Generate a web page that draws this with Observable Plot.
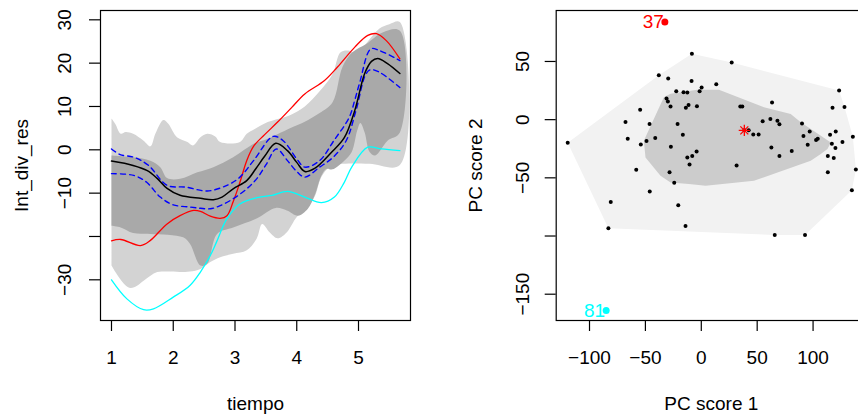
<!DOCTYPE html>
<html><head><meta charset="utf-8">
<script src="https://cdn.jsdelivr.net/npm/d3@7"></script>
<script src="https://cdn.jsdelivr.net/npm/@observablehq/plot@0.6"></script>
<style>
html,body{margin:0;padding:0;background:#fff;overflow:hidden;}
#wrap{display:flex;width:858px;height:416px;overflow:hidden;}
#wrap svg{flex:none;max-width:none;}
</style></head><body><div id="wrap"></div>
<script>
// ---------- Left panel: functional boxplot ----------
const xTicksL = [1, 2, 3, 4, 5];
const yTicksL = [30, 20, 10, 0, -10, -20, -30];
const yLabelsL = [30, 20, 10, 0, -10, -30];
const xTitleL = "tiempo";
const yTitleL = "Int_div_res";

const medT = [1.00,1.35,1.58,1.74,1.90,2.11,2.44,2.65,2.79,2.97,3.19,3.34,3.48,3.66,3.85,4.00,4.13,4.29,4.56,4.77,4.94,5.10,5.21,5.31,5.47,5.67];
const medY = [-2.6,-3.6,-4.8,-6.6,-8.9,-10.5,-11.2,-11.5,-10.9,-9.0,-7.1,-4.3,-1.5,1.5,-0.2,-2.9,-5.0,-4.3,-0.6,2.8,9.1,17.6,20.4,21.1,19.9,17.6];

const upT = [1.00,1.14,1.36,1.60,1.90,2.20,2.55,2.87,3.08,3.30,3.62,3.78,4.00,4.13,4.37,4.60,4.85,4.94,5.02,5.20,5.34,5.67];
const upY = [0.2,-1.1,-1.7,-3.6,-8.2,-8.6,-9.5,-8.2,-6.3,-2.5,3.1,2.1,-2.1,-4.0,-2.5,2.1,7.5,11.5,15.5,23.3,22.9,20.6];

const loT = [1.00,1.36,1.57,1.79,2.00,2.27,2.44,2.60,2.76,2.97,3.19,3.35,3.50,3.67,3.85,4.00,4.13,4.37,4.59,4.80,4.96,5.12,5.20,5.34,5.67];
const loY = [-5.5,-5.9,-7.5,-10.9,-12.7,-13.2,-13.5,-13.6,-12.9,-11.3,-9.0,-6.7,-3.5,0.2,-2.5,-5.0,-6.3,-4.0,-1.7,2.1,9.1,17.5,18.5,17.9,14.4];

const redT = [1.00,1.15,1.47,1.63,1.90,2.11,2.33,2.44,2.60,2.76,2.87,2.97,3.08,3.19,3.30,3.48,3.69,3.92,4.13,4.45,4.66,4.94,5.15,5.29,5.45,5.67];
const redY = [-21.0,-20.7,-22.1,-20.9,-17.1,-15.2,-14.0,-14.2,-15.3,-15.8,-15.2,-12.0,-7.5,-2.5,0.8,3.5,6.4,9.8,12.9,16.0,19.1,23.7,26.4,26.8,25.2,21.0];

const cyT = [1.00,1.25,1.52,1.68,2.00,2.27,2.44,2.60,2.70,2.87,3.08,3.40,3.60,3.85,4.13,4.40,4.61,4.77,4.89,5.15,5.37,5.67];
const cyY = [-30.0,-34.4,-36.9,-36.7,-34.0,-31.3,-28.2,-24.4,-21.3,-15.9,-12.5,-10.9,-10.5,-9.6,-10.9,-12.2,-10.9,-7.5,-4.0,0.6,0.2,-0.2];

const ltUpT = [1.00,1.06,1.15,1.23,1.35,1.52,1.63,1.71,1.84,1.92,2.06,2.23,2.32,2.44,2.55,2.68,2.76,3.08,3.19,3.32,3.53,3.89,4.13,4.37,4.58,4.71,4.84,4.98,5.15,5.34,5.50,5.67];
const ltUpY = [7.2,6.0,3.7,4.1,3.7,2.1,0.8,3.7,6.9,6.0,2.9,1.8,1.0,2.9,3.7,3.1,1.8,1.8,3.7,4.8,6.4,8.0,10.0,13.5,17.5,22.5,22.9,22.0,25.0,28.0,29.0,29.5];
const ltLoT = [1.00,1.10,1.23,1.31,1.42,1.52,1.74,1.90,2.11,2.27,2.44,2.60,2.76,2.97,3.19,3.35,3.44,3.56,3.69,3.84,4.00,4.16,4.29,4.40,4.53,4.69,5.18,5.67];
const ltLoY = [-26.7,-29.0,-31.3,-31.9,-31.3,-30.2,-28.2,-28.1,-28.2,-28.1,-27.5,-25.9,-24.8,-24.0,-23.2,-20.5,-17.1,-19.0,-20.4,-19.0,-15.5,-13.5,-10.8,-6.2,-4.0,-3.3,-3.2,-3.5];

const dkUpT = [1.00,1.35,1.63,1.79,1.90,2.11,2.39,2.65,2.97,3.32,3.52,3.89,4.13,4.37,4.58,4.74,4.90,5.13,5.39,5.67];
const dkUpY = [-1.3,-1.7,-2.5,-4.0,-6.5,-6.7,-5.2,-4.0,-1.7,1.5,2.5,5.0,6.5,8.5,11.0,19.1,22.5,24.5,27.1,27.5];
const dkLoT = [1.00,1.15,1.35,1.63,2.16,2.27,2.44,2.55,2.71,2.97,3.34,3.66,3.84,4.02,4.18,4.29,4.40,4.48,4.58,4.77,4.89,4.98,5.03,5.10,5.18,5.27,5.47,5.67];
const dkLoY = [-17.5,-17.9,-19.2,-19.4,-20.2,-21.7,-26.7,-26.3,-19.4,-17.9,-15.9,-13.4,-14.0,-15.2,-13.6,-10.5,-5.9,-4.4,-4.5,-2.5,-0.5,4.5,6.2,4.0,-0.5,-1.3,2.1,4.0];

// ---------- Right panel: bivariate bagplot of PC scores ----------
const xTicksR = [-100, -50, 0, 50, 100];
const yTicksR = [50, 0, -50, -100, -150];
const yLabelsR = [50, 0, -50, -150];
const xTitleR = "PC score 1";
const yTitleR = "PC score 2";

const pcX = [-8.4,27.2,-38,-29.6,-8.7,13.4,0.3,-1.5,-22.4,-15.9,-12.5,123.3,-31.1,-29.9,-27.5,-11.4,-13.8,-3.9,-54.7,34.9,36.7,63.3,117.4,128.1,-67.8,-46.3,-21.2,54.9,61.8,68.1,69.9,90.1,-119.5,-65.8,-49,-41.2,-54.1,-16.5,38.5,42.4,46.5,51.3,91.4,97,95.2,102.7,104.2,115.2,120.3,116.8,126.3,135.6,120,113.2,118.5,-27.2,-4.2,-8.1,-12.5,-10.5,31.6,62.7,69.9,80.9,-58.2,-28.4,-24.2,113.2,138.3,-46.1,134.7,-81,-20.6,-83.1,-14.1,65.7,92.8];
const pcY = [56.6,49.1,38.2,35.3,33.3,30.5,27.6,24.4,24.4,23.6,23.3,25,18.1,15.5,11.2,12.6,10.3,11.5,8.6,11.2,11.2,14.7,10.3,10.9,-2,-3.7,-3.7,-1.4,0.6,-0.9,-4,-3.4,-19.8,-16.4,-18.4,-15.8,-21.3,-12.9,-9.2,-9.2,-12.7,-12.7,-14.1,-10.1,-21.6,-17.5,-16.4,-12.9,-10.1,-20.7,-19.2,-14.7,-24.4,-31.3,-33,-23.3,-27.3,-31.3,-32.5,-38.5,-39.4,-23.9,-31.3,-27,-43.1,-45.1,-54.3,-45.1,-42.8,-61.8,-60.6,-70.7,-73.5,-93.4,-91.4,-99.1,-99.1];

const outerX = [-119.5,-38,-8.4,27.2,123.3,128.1,135.6,138.3,134.7,92.8,65.7,-83.1];
const outerY = [-19.8,38.2,56.6,49.1,25,10.9,-14.7,-42.8,-60.6,-99.1,-99.1,-93.4];
const innerX = [-51.4,-33.5,-27.5,-3.6,15.8,56.1,80,89,115.9,112.9,106.9,97.9,47.1,3.9,-11.1,-27.5,-36.5,-49.9];
const innerY = [-18.1,19.2,22.2,25.6,25.6,10.6,4.9,-2.3,-19.6,-25.3,-29.6,-35.3,-52.6,-56.9,-55.4,-54,-48.3,-32.5];

const medianPC = {x: 38.5, y: -9.2};
const outLabels = ["37", "81"];
const outX = [-32.6, -85.1];
const outY = [83.9, -164];
const outColors = ["#ff0000", "#00ffff"];

// ---------- helpers ----------
const FONT = "'Liberation Sans', Arial, Helvetica, sans-serif";
const FS = 19;
const fmt = d => d < 0 ? "\u2212" + Math.abs(d) : String(d);
const series = (T, Y) => T.map((t, i) => ({t, y: Y[i]}));
function band(tu, yu, tl, yl) {
  const pts = series(tu, yu);
  for (let i = tl.length - 1; i >= 0; i--) pts.push({t: tl[i], y: yl[i]});
  return pts;
}
const style = {fontFamily: FONT, fontSize: FS + "px", background: "white", overflow: "visible"};

const left = Plot.plot({
  width: 429, height: 416,
  marginLeft: 100, marginRight: 19, marginTop: 10, marginBottom: 96,
  style,
  x: {domain: [0.822, 5.842]},
  y: {domain: [-39.39, 32.15]},
  marks: [
    Plot.line(band(ltUpT, ltUpY, ltLoT, ltLoY), {x: "t", y: "y", fill: "#d3d3d3", stroke: "none", curve: "catmull-rom"}),
    Plot.line(band(dkUpT, dkUpY, dkLoT, dkLoY), {x: "t", y: "y", fill: "#a9a9a9", stroke: "none", curve: "catmull-rom"}),
    Plot.line(series(redT, redY), {x: "t", y: "y", stroke: "#ff0000", strokeWidth: 1.3, curve: "catmull-rom"}),
    Plot.line(series(cyT, cyY), {x: "t", y: "y", stroke: "#00ffff", strokeWidth: 1.3, curve: "catmull-rom"}),
    Plot.line(series(upT, upY), {x: "t", y: "y", stroke: "#0000ff", strokeWidth: 1.4, strokeDasharray: "5,4", curve: "catmull-rom"}),
    Plot.line(series(loT, loY), {x: "t", y: "y", stroke: "#0000ff", strokeWidth: 1.4, strokeDasharray: "5,4", curve: "catmull-rom"}),
    Plot.line(series(medT, medY), {x: "t", y: "y", stroke: "#000", strokeWidth: 1.5, curve: "catmull-rom"}),
    Plot.frame({stroke: "#000", strokeWidth: 1.2}),
    Plot.axisX({ticks: xTicksL, tickSize: 11, tickFormat: () => "", label: null, strokeWidth: 1.2}),
    Plot.axisY({ticks: yTicksL, tickSize: 11, tickFormat: () => "", label: null, strokeWidth: 1.2}),
    Plot.text(xTicksL, {x: d => d, text: d => fmt(d), frameAnchor: "bottom", dy: 37.4, fontSize: FS, lineAnchor: "middle", fill: "#000"}),
    Plot.text(yLabelsL, {y: d => d, text: d => fmt(d), frameAnchor: "left", dx: -35.5, rotate: -90, fontSize: FS, lineAnchor: "middle", textAnchor: "middle", fill: "#000"}),
    Plot.text([xTitleL], {text: d => d, frameAnchor: "bottom", dy: 83, fontSize: FS, lineAnchor: "middle", fill: "#000"}),
    Plot.text([yTitleL], {text: d => d, frameAnchor: "left", dx: -79, rotate: -90, fontSize: FS, lineAnchor: "middle", textAnchor: "middle", fill: "#000"})
  ]
});

const pts = pcX.map((x, i) => ({x, y: pcY[i]}));
const outer = outerX.map((x, i) => ({x, y: outerY[i]}));
const inner = innerX.map((x, i) => ({x, y: innerY[i]}));
const outs = outLabels.map((l, i) => ({l, x: outX[i], y: outY[i], c: outColors[i]}));

const right = Plot.plot({
  width: 437, height: 416,
  marginLeft: 126.7, marginRight: 0, marginTop: 10, marginBottom: 96,
  style,
  x: {domain: [-129.8, 147.8]},
  y: {domain: [-172.6, 93.8]},
  marks: [
    Plot.line(outer, {x: "x", y: "y", fill: "#f2f2f2", stroke: "none", curve: "linear-closed"}),
    Plot.line(inner, {x: "x", y: "y", fill: "#cccccc", stroke: "none", curve: "linear-closed"}),
    Plot.dot(pts, {x: "x", y: "y", r: 2, fill: "#000", stroke: "none"}),
    Plot.dot([medianPC], {x: "x", y: "y", symbol: "plus", r: 3.7, stroke: "#ff0000", strokeWidth: 1.3}),
    Plot.dot([medianPC], {x: "x", y: "y", symbol: "times", r: 3.7, stroke: "#ff0000", strokeWidth: 1.3}),
    Plot.dot(outs, {x: "x", y: "y", r: 3.5, fill: d => d.c, stroke: "none"}),
    Plot.text(outs, {x: "x", y: "y", text: "l", fill: d => d.c, textAnchor: "end", dx: -1, fontSize: FS, lineAnchor: "middle"}),
    Plot.frame({stroke: "#000", strokeWidth: 1.2}),
    Plot.axisX({ticks: xTicksR, tickSize: 11, tickFormat: () => "", label: null, strokeWidth: 1.2}),
    Plot.axisY({ticks: yTicksR, tickSize: 11, tickFormat: () => "", label: null, strokeWidth: 1.2}),
    Plot.text(xTicksR, {x: d => d, text: d => fmt(d), frameAnchor: "bottom", dy: 37.4, fontSize: FS, lineAnchor: "middle", fill: "#000"}),
    Plot.text(yLabelsR, {y: d => d, text: d => fmt(d), frameAnchor: "left", dx: -33.5, rotate: -90, fontSize: FS, lineAnchor: "middle", textAnchor: "middle", fill: "#000"}),
    Plot.text([xTitleR], {text: d => d, frameAnchor: "bottom", dy: 83, fontSize: FS, lineAnchor: "middle", fill: "#000"}),
    Plot.text([yTitleR], {text: d => d, frameAnchor: "left", dx: -80.7, rotate: -90, fontSize: FS, lineAnchor: "middle", textAnchor: "middle", fill: "#000"})
  ]
});

const wrap = document.getElementById("wrap");
wrap.appendChild(left);
wrap.appendChild(right);
</script></body></html>
